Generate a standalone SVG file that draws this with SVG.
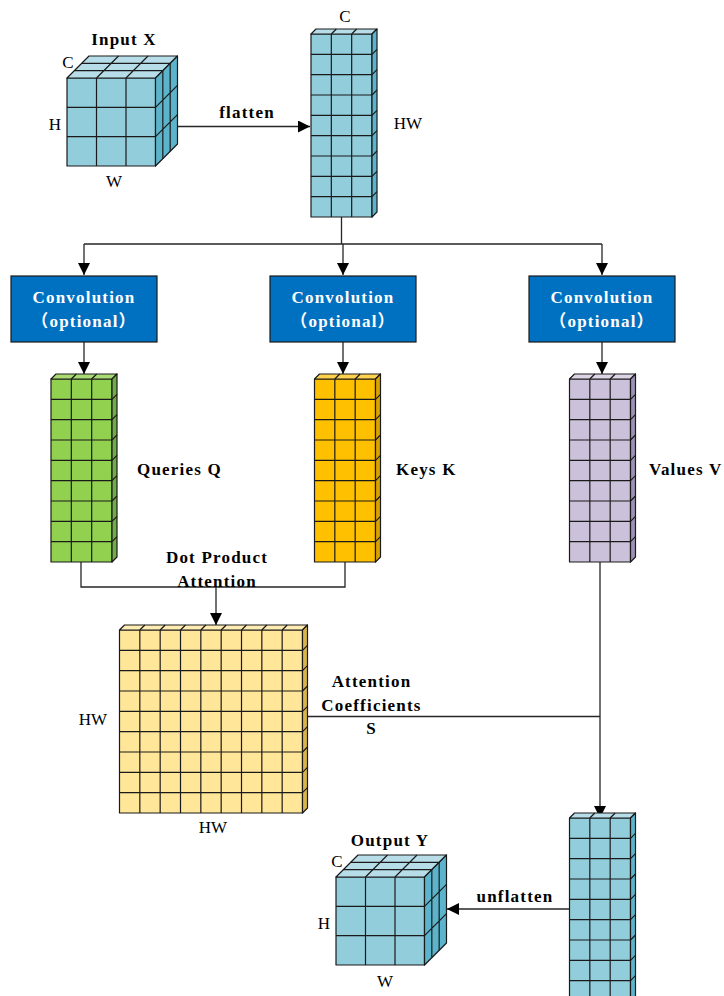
<svg xmlns="http://www.w3.org/2000/svg" xmlns:xlink="http://www.w3.org/1999/xlink" width="724" height="996" viewBox="0 0 724 996">
<style>
.t{font-family:"Liberation Serif","Noto Sans CJK SC",serif;font-size:17px;fill:#000}
.b{font-weight:bold;letter-spacing:1.2px}
.w{fill:#fff}
.g{stroke:#1a1a1a;stroke-width:1.2;stroke-linejoin:round}
.ln{fill:none}
.c{fill:none;stroke:#262626;stroke-width:1.3}
.box{fill:#0070C0;stroke:#1a1a1a;stroke-width:1.2}
</style>
<defs>
<marker id="ah" viewBox="0 0 12 12" refX="12" refY="6" markerWidth="13" markerHeight="12" markerUnits="userSpaceOnUse" orient="auto">
<path d="M0 0L12 6L0 12Z" fill="#000"/>
</marker>
<path id="colFront" d="M0 0H61V183H0Z"/>
<path id="colTop" d="M0 0L5 -5H66L61 0Z"/>
<path id="colRight" d="M61 0L66 -5V178L61 183Z"/>
<path id="colLines" d="M20.33 0V183M40.67 0V183M0 20.33H61M0 40.67H61M0 61H61M0 81.33H61M0 101.67H61M0 122H61M0 142.33H61M0 162.67H61M20.33 0l5 -5M40.67 0l5 -5M61 20.33l5 -5M61 40.67l5 -5M61 61l5 -5M61 81.33l5 -5M61 101.67l5 -5M61 122l5 -5M61 142.33l5 -5M61 162.67l5 -5"/>
<path id="cubeFront" d="M0 0H88.5V88H0Z"/>
<path id="cubeTop" d="M0 0L22 -22H110.5L88.5 0Z"/>
<path id="cubeRight" d="M88.5 0L110.5 -22V66L88.5 88Z"/>
<path id="cubeLines" d="M29.5 0V88M59 0V88M0 29.33H88.5M0 58.67H88.5M29.5 0l22 -22M59 0l22 -22M7.33 -7.33H95.83M14.67 -14.67H103.17M95.83 -7.33V80.67M103.17 -14.67V73.33M88.5 29.33l22 -22M88.5 58.67l22 -22"/>
</defs>

<g id="connectors">
<path class="c" d="M177 126.5H310" marker-end="url(#ah)"/>
<path class="c" d="M341.5 217V244M84 244H602"/>
<path class="c" d="M84 244V275" marker-end="url(#ah)"/>
<path class="c" d="M343 244V275" marker-end="url(#ah)"/>
<path class="c" d="M602 244V275" marker-end="url(#ah)"/>
<path class="c" d="M84 342V374" marker-end="url(#ah)"/>
<path class="c" d="M343 342V374" marker-end="url(#ah)"/>
<path class="c" d="M602 342V374" marker-end="url(#ah)"/>
<path class="c" d="M81 562V587H345V562"/>
<path class="c" d="M216 587V625" marker-end="url(#ah)"/>
<path class="c" d="M307 716.5H600"/>
<path class="c" d="M600 562V818" marker-end="url(#ah)"/>
<path class="c" d="M569 909H447" marker-end="url(#ah)"/>
</g>

<g id="input-x">
<g transform="translate(67,78)">
<use xlink:href="#cubeFront" class="g" fill="#92CDDC"/>
<use xlink:href="#cubeTop" class="g" fill="#B7DEE8"/>
<use xlink:href="#cubeRight" class="g" fill="#5BB4CB"/>
<use xlink:href="#cubeLines" class="g ln"/>
</g>
<text class="t b" x="124" y="45" text-anchor="middle">Input X</text>
<text class="t" x="68" y="67.5" text-anchor="middle">C</text>
<text class="t" x="55" y="130" text-anchor="middle">H</text>
<text class="t" x="114" y="187" text-anchor="middle">W</text>
</g>

<text class="t b" x="247" y="117.5" text-anchor="middle">flatten</text>

<g id="flattened">
<g transform="translate(311,34)">
<use xlink:href="#colFront" class="g" fill="#92CDDC"/>
<use xlink:href="#colTop" class="g" fill="#B7DEE8"/>
<use xlink:href="#colRight" class="g" fill="#5BB4CB"/>
<use xlink:href="#colLines" class="g ln"/>
</g>
<text class="t" x="345" y="22" text-anchor="middle">C</text>
<text class="t" x="408" y="128.5" text-anchor="middle">HW</text>
</g>

<g id="conv-q">
<rect class="box" x="11" y="276" width="146" height="66"/>
<text class="t b w" x="84" y="303" text-anchor="middle">Convolution</text>
<text class="t b w" x="84" y="327" text-anchor="middle">（optional）</text>
</g>
<g id="conv-k">
<rect class="box" x="270" y="276" width="146" height="66"/>
<text class="t b w" x="343" y="303" text-anchor="middle">Convolution</text>
<text class="t b w" x="343" y="327" text-anchor="middle">（optional）</text>
</g>
<g id="conv-v">
<rect class="box" x="529" y="276" width="146" height="66"/>
<text class="t b w" x="602" y="303" text-anchor="middle">Convolution</text>
<text class="t b w" x="602" y="327" text-anchor="middle">（optional）</text>
</g>

<g id="queries">
<g transform="translate(51,379)">
<use xlink:href="#colFront" class="g" fill="#92D050"/>
<use xlink:href="#colTop" class="g" fill="#A9DA74"/>
<use xlink:href="#colRight" class="g" fill="#70AD47"/>
<use xlink:href="#colLines" class="g ln"/>
</g>
<text class="t b" x="137" y="475">Queries Q</text>
</g>

<g id="keys">
<g transform="translate(314.5,379)">
<use xlink:href="#colFront" class="g" fill="#FFC000"/>
<use xlink:href="#colTop" class="g" fill="#FFD24D"/>
<use xlink:href="#colRight" class="g" fill="#D9A300"/>
<use xlink:href="#colLines" class="g ln"/>
</g>
<text class="t b" x="396" y="475">Keys K</text>
</g>

<g id="values">
<g transform="translate(569.5,379)">
<use xlink:href="#colFront" class="g" fill="#CCC1DA"/>
<use xlink:href="#colTop" class="g" fill="#DDD5E6"/>
<use xlink:href="#colRight" class="g" fill="#9E8FB4"/>
<use xlink:href="#colLines" class="g ln"/>
</g>
<text class="t b" x="649" y="475">Values V</text>
</g>

<text class="t b" x="217" y="562.5" text-anchor="middle">Dot Product</text>
<text class="t b" x="217" y="586.5" text-anchor="middle">Attention</text>

<g id="attention-matrix">
<g transform="translate(119.5,630)">
<path class="g" fill="#FFE699" d="M0 0H183V183H0Z"/>
<path class="g" fill="#FFEDB3" d="M0 0L5 -5H188L183 0Z"/>
<path class="g" fill="#D9B44A" d="M183 0L188 -5V178L183 183Z"/>
<path class="g ln" d="M20.33 0V183M40.67 0V183M61 0V183M81.33 0V183M101.67 0V183M122 0V183M142.33 0V183M162.67 0V183M0 20.33H183M0 40.67H183M0 61H183M0 81.33H183M0 101.67H183M0 122H183M0 142.33H183M0 162.67H183M20.33 0l5 -5M40.67 0l5 -5M61 0l5 -5M81.33 0l5 -5M101.67 0l5 -5M122 0l5 -5M142.33 0l5 -5M162.67 0l5 -5M183 20.33l5 -5M183 40.67l5 -5M183 61l5 -5M183 81.33l5 -5M183 101.67l5 -5M183 122l5 -5M183 142.33l5 -5M183 162.67l5 -5"/>
</g>
<text class="t" x="93" y="725" text-anchor="middle">HW</text>
<text class="t" x="213" y="833" text-anchor="middle">HW</text>
</g>

<text class="t b" x="371.5" y="687" text-anchor="middle">Attention</text>
<text class="t b" x="371.5" y="710.5" text-anchor="middle">Coefficients</text>
<text class="t b" x="371.5" y="734" text-anchor="middle">S</text>

<g id="output-column">
<g transform="translate(569.5,818)">
<use xlink:href="#colFront" class="g" fill="#92CDDC"/>
<use xlink:href="#colTop" class="g" fill="#B7DEE8"/>
<use xlink:href="#colRight" class="g" fill="#5BB4CB"/>
<use xlink:href="#colLines" class="g ln"/>
</g>
</g>

<text class="t b" x="515" y="902" text-anchor="middle">unflatten</text>

<g id="output-y">
<g transform="translate(336,877)">
<use xlink:href="#cubeFront" class="g" fill="#92CDDC"/>
<use xlink:href="#cubeTop" class="g" fill="#B7DEE8"/>
<use xlink:href="#cubeRight" class="g" fill="#5BB4CB"/>
<use xlink:href="#cubeLines" class="g ln"/>
</g>
<text class="t b" x="390" y="846" text-anchor="middle">Output Y</text>
<text class="t" x="337" y="867" text-anchor="middle">C</text>
<text class="t" x="324" y="929" text-anchor="middle">H</text>
<text class="t" x="385" y="986.5" text-anchor="middle">W</text>
</g>
</svg>
